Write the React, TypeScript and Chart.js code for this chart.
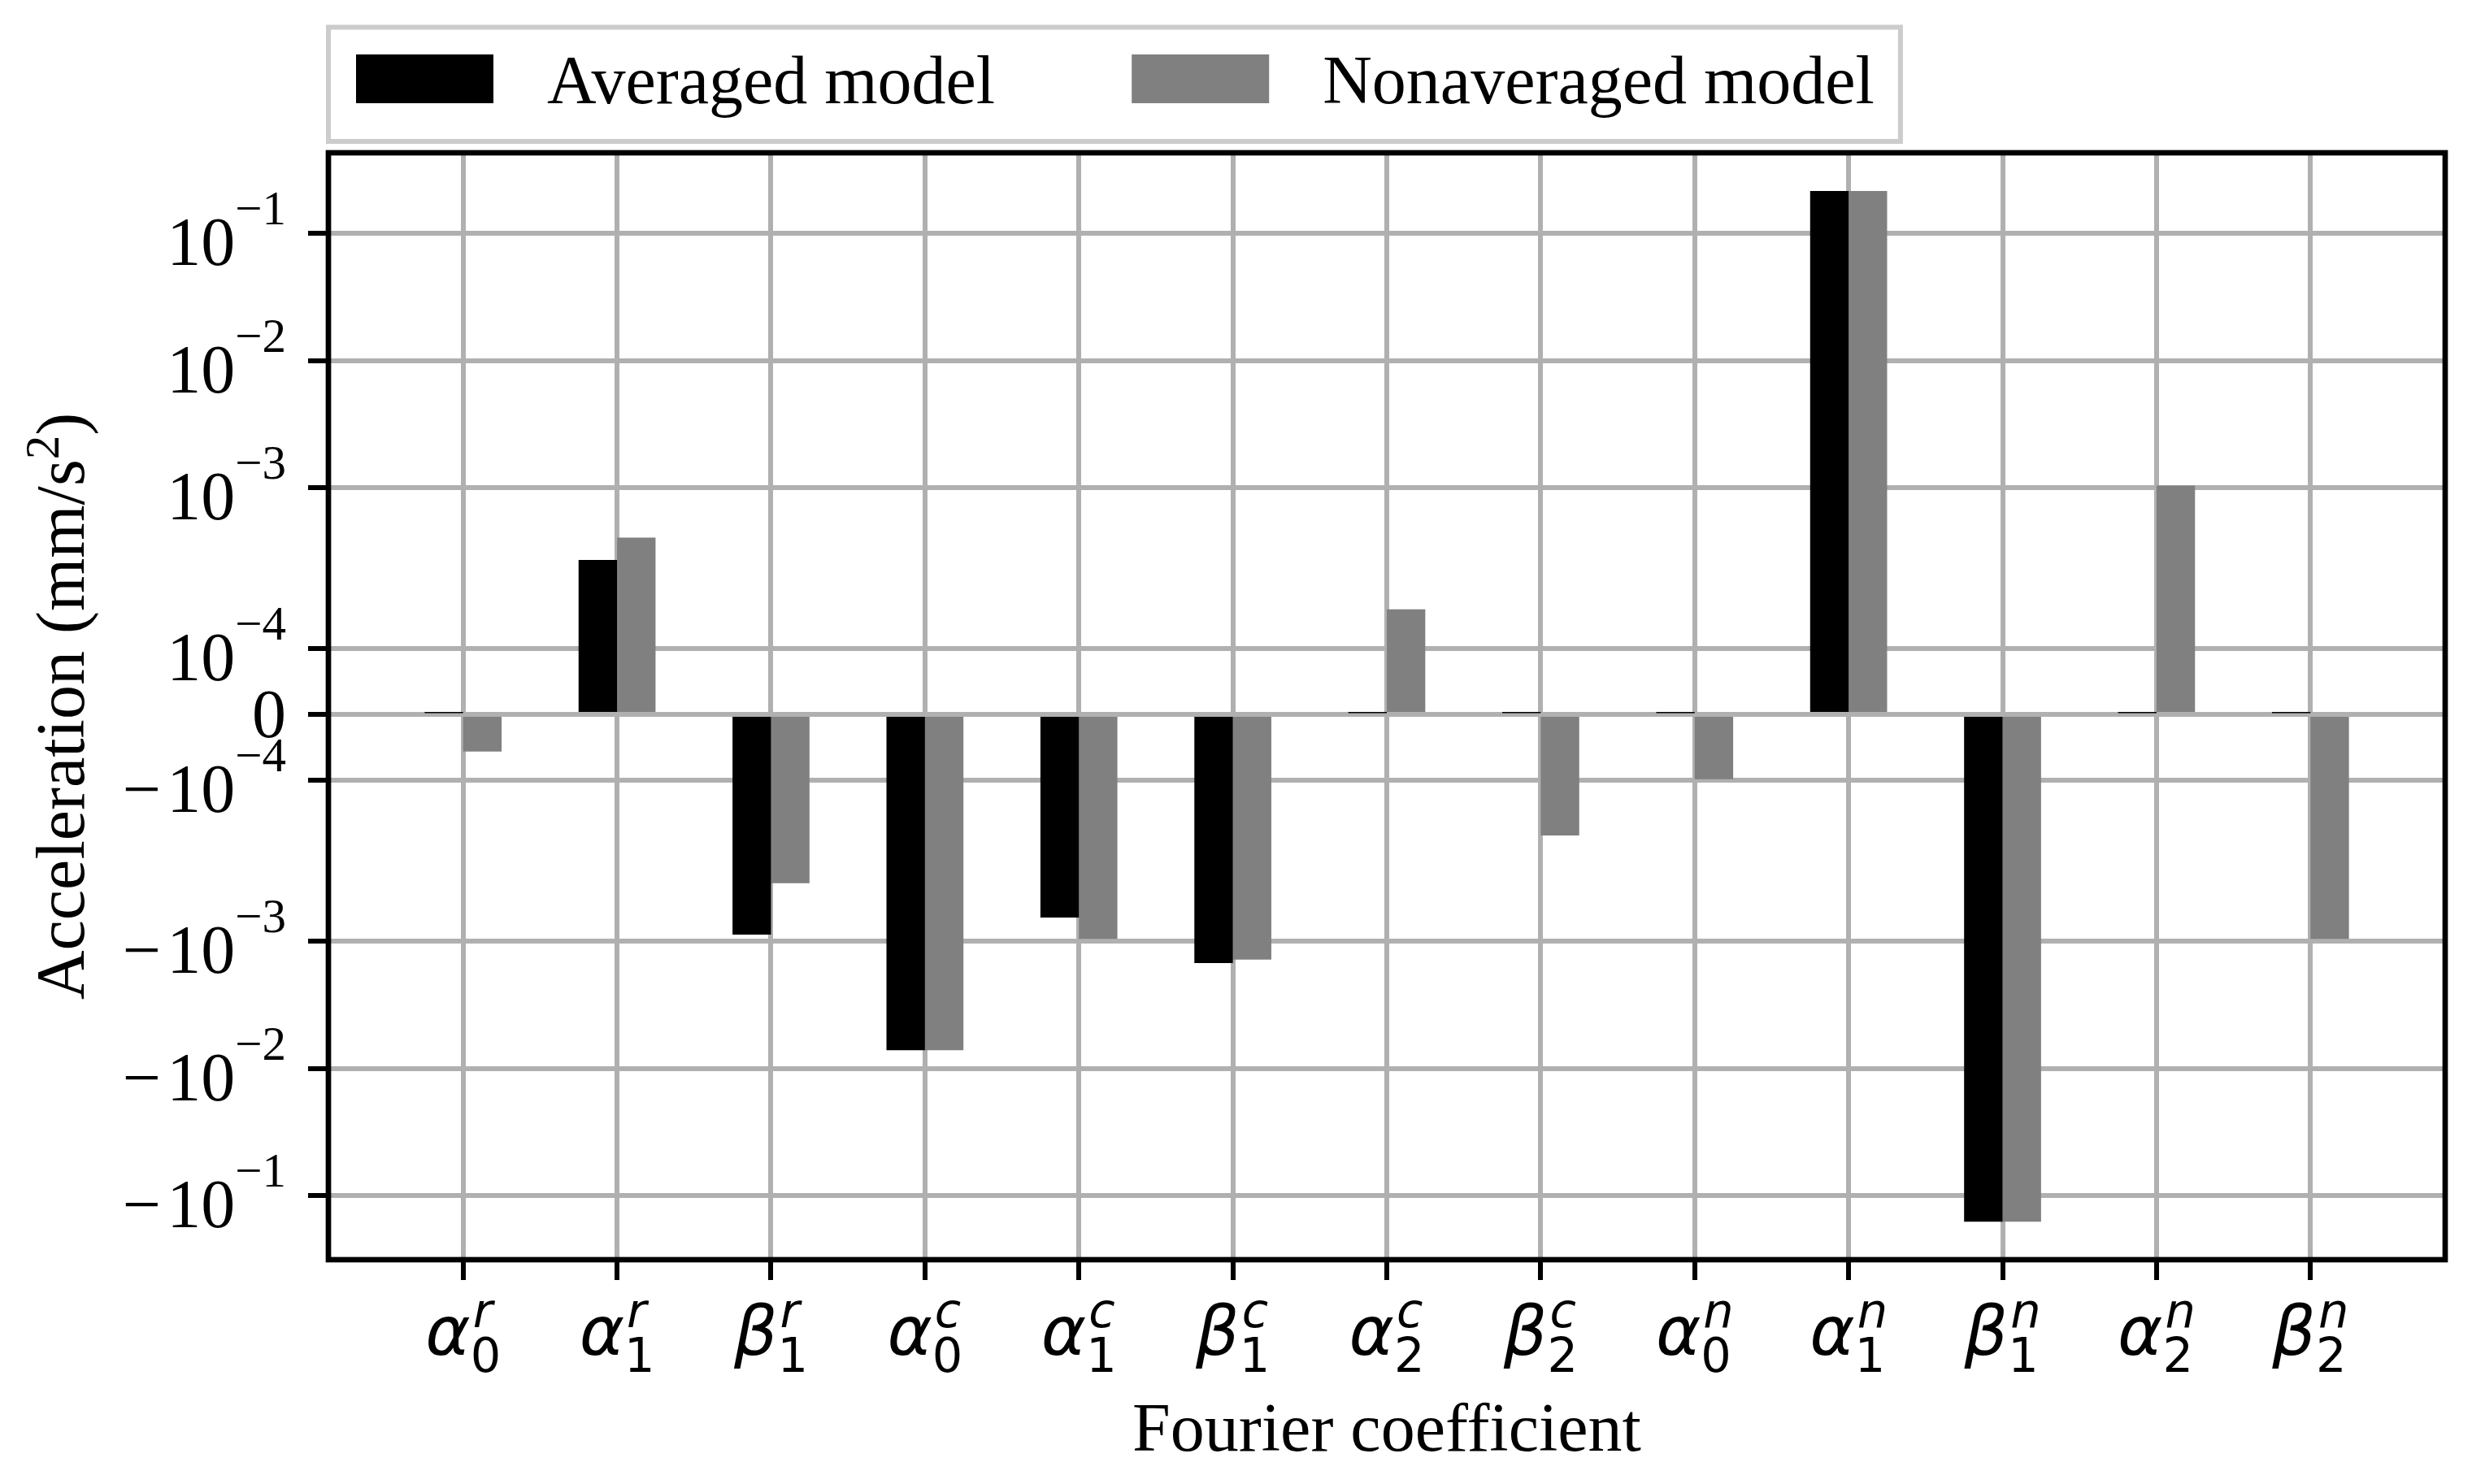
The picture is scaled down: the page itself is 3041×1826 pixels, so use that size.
import React, { useEffect, useRef } from 'react';
import { Chart, BarController, BarElement, LinearScale } from 'chart.js';

// ---------------- data ----------------
const CATEGORY_SYMBOLS = ['α', 'α', 'β', 'α', 'α', 'β', 'α', 'β', 'α', 'α', 'β', 'α', 'β'];
const CATEGORY_SUBS = ['0', '1', '1', '0', '1', '1', '2', '2', '0', '1', '1', '2', '2'];
const CATEGORY_SUPS = ['r', 'r', 'r', 'c', 'c', 'c', 'c', 'c', 'n', 'n', 'n', 'n', 'n'];

const AVERAGED = [2e-6, 2.72e-4, -8.92e-4, -7.2e-3, -6.54e-4, -1.49e-3, 2e-6, 2e-6, 2e-6, 0.214, -0.16, 2e-6, 2e-6];
const NONAVERAGED = [-5.65e-5, 4.06e-4, -3.52e-4, -7.2e-3, -9.62e-4, -1.4e-3, 1.595e-4, -1.84e-4, -9.85e-5, 0.214, -0.16, 1.04e-3, -9.62e-4];

const SERIES_LABELS = ['Averaged model', 'Nonaveraged model'];
const SERIES_COLORS = ['#000000', '#808080'];

const Y_TICKS = [-1e-1, -1e-2, -1e-3, -1e-4, 0, 1e-4, 1e-3, 1e-2, 1e-1];
const Y_MIN = -0.318;
const Y_MAX = 0.427;
const X_MIN = -0.875;
const X_MAX = 12.875;

const Y_TITLE = 'Acceleration (mm/s';
const Y_TITLE_SUP = '2';
const Y_TITLE_END = ')';
const X_TITLE = 'Fourier coefficient';

// ---------------- symlog transform ----------------
const LINTHRESH = 2.15e-4;
const LINSCALE_ADJ = 1 / (1 - 1 / 10);

function symlog(v: number): number {
  const a = Math.abs(v);
  if (a <= LINTHRESH) return (v / LINTHRESH) * LINSCALE_ADJ;
  return Math.sign(v) * (LINSCALE_ADJ + Math.log10(a / LINTHRESH));
}
function symexp(t: number): number {
  const a = Math.abs(t);
  if (a <= LINSCALE_ADJ) return (t / LINSCALE_ADJ) * LINTHRESH;
  return Math.sign(t) * LINTHRESH * Math.pow(10, a - LINSCALE_ADJ);
}

class SymlogScale extends LinearScale {
  static id = 'symlog';
  static defaults = {};
  buildTicks() {
    const self: any = this;
    return Y_TICKS.filter((v) => v >= self.min && v <= self.max).map((v) => ({ value: v }));
  }
  configure() {
    super.configure();
    const self: any = this;
    self._tStart = symlog(self.min);
    self._tRange = symlog(self.max) - self._tStart;
  }
  getPixelForValue(value: number) {
    const self: any = this;
    if (value === null || value === undefined || isNaN(value)) return NaN;
    return self.getPixelForDecimal((symlog(value) - self._tStart) / self._tRange);
  }
  getValueForPixel(pixel: number) {
    const self: any = this;
    return symexp(self._tStart + self.getDecimalForPixel(pixel) * self._tRange);
  }
}

Chart.register(BarController, BarElement, LinearScale, SymlogScale as any);

// ---------------- styling ----------------
const W = 3041;
const H = 1826;
const SERIF = "'Liberation Serif', 'Times New Roman', serif";
const SANS = "'DejaVu Sans', sans-serif";
const FS = 84;
const FS_SMALL = 59;
const GRID = '#b0b0b0';

const textPlugin = {
  id: 'mplText',
  afterDatasetsDraw(chart: any) {
    const { ctx, chartArea } = chart;
    ctx.save();
    ctx.strokeStyle = '#000';
    ctx.lineWidth = 6.7;
    ctx.lineJoin = 'miter';
    ctx.strokeRect(chartArea.left, chartArea.top, chartArea.right - chartArea.left, chartArea.bottom - chartArea.top);
    ctx.restore();
  },
  afterDraw(chart: any) {
    const { ctx, chartArea, scales } = chart;
    const ys = scales.y;
    const xs = scales.x;
    ctx.save();
    ctx.fillStyle = '#000';
    ctx.textBaseline = 'alphabetic';
    ctx.textAlign = 'left';

    // ---- y tick labels ----
    const yRight = chartArea.left - 52;
    Y_TICKS.forEach((v) => {
      const y = ys.getPixelForValue(v);
      if (v === 0) {
        ctx.font = `${FS}px ${SERIF}`;
        const w = ctx.measureText('0').width;
        ctx.fillText('0', yRight - w, y + 28);
        return;
      }
      const exp = Math.round(Math.log10(Math.abs(v)));
      const supText = (exp < 0 ? '\u2212' : '') + String(Math.abs(exp));
      ctx.font = `${FS_SMALL}px ${SERIF}`;
      const supW = ctx.measureText(supText).width;
      ctx.font = `${FS}px ${SERIF}`;
      const baseW = ctx.measureText('10').width;
      const minusW = ctx.measureText('\u2212').width;
      const xBase = yRight - supW - baseW;
      ctx.fillText('10', xBase, y + 39);
      if (v < 0) ctx.fillText('\u2212', xBase - minusW - 7, y + 39);
      ctx.font = `${FS_SMALL}px ${SERIF}`;
      ctx.fillText(supText, xBase + baseW, y - 11);
    });

    // ---- x tick labels ----
    const bottom = chartArea.bottom;
    CATEGORY_SYMBOLS.forEach((sym, i) => {
      const xc = xs.getPixelForValue(i);
      ctx.font = `italic ${FS}px ${SANS}`;
      const symW = ctx.measureText(sym).width;
      ctx.font = `${FS_SMALL}px ${SANS}`;
      const subW = ctx.measureText(CATEGORY_SUBS[i]).width;
      ctx.font = `italic ${FS_SMALL}px ${SANS}`;
      const supW = ctx.measureText(CATEGORY_SUPS[i]).width + 3;
      const total = symW + Math.max(subW, supW);
      const x0 = xc - total / 2;
      ctx.font = `italic ${FS}px ${SANS}`;
      ctx.fillText(sym, x0, bottom + 117);
      ctx.font = `${FS_SMALL}px ${SANS}`;
      ctx.fillText(CATEGORY_SUBS[i], x0 + symW, bottom + 138);
      ctx.font = `italic ${FS_SMALL}px ${SANS}`;
      ctx.fillText(CATEGORY_SUPS[i], x0 + symW + 3, bottom + 83);
    });

    // ---- x title ----
    ctx.font = `${FS}px ${SERIF}`;
    ctx.textAlign = 'center';
    ctx.fillText(X_TITLE, (chartArea.left + chartArea.right) / 2, bottom + 235);
    ctx.textAlign = 'left';

    // ---- y title (rotated) ----
    ctx.save();
    ctx.translate(103, (chartArea.top + chartArea.bottom) / 2);
    ctx.rotate(-Math.PI / 2);
    ctx.font = `${FS}px ${SERIF}`;
    const w1 = ctx.measureText(Y_TITLE).width;
    const w3 = ctx.measureText(Y_TITLE_END).width;
    ctx.font = `${FS_SMALL}px ${SERIF}`;
    const w2 = ctx.measureText(Y_TITLE_SUP).width;
    const start = -(w1 + w2 + w3) / 2;
    ctx.font = `${FS}px ${SERIF}`;
    ctx.fillText(Y_TITLE, start, 0);
    ctx.fillText(Y_TITLE_END, start + w1 + w2, 0);
    ctx.font = `${FS_SMALL}px ${SERIF}`;
    ctx.fillText(Y_TITLE_SUP, start + w1, -31);
    ctx.restore();

    // ---- legend ----
    ctx.font = `${FS}px ${SERIF}`;
    const left = chartArea.left;
    const handleW = 169;
    const handleTop = 67;
    const handleH = 60;
    const baseline = 127;
    let x = left + 34;
    const positions: { hx: number; tx: number }[] = [];
    SERIES_LABELS.forEach((label) => {
      const tx = x + handleW + 66;
      positions.push({ hx: x, tx });
      x = tx + ctx.measureText(label).width + 168;
    });
    const lastLabelEnd = positions[positions.length - 1].tx + ctx.measureText(SERIES_LABELS[SERIES_LABELS.length - 1]).width;
    const frameRight = lastLabelEnd + 32;
    ctx.fillStyle = 'rgba(255,255,255,0.8)';
    ctx.fillRect(left, 33.5, frameRight - left, 140.5);
    ctx.strokeStyle = '#cccccc';
    ctx.lineWidth = 6;
    ctx.strokeRect(left, 33.5, frameRight - left, 140.5);
    SERIES_LABELS.forEach((label, s) => {
      ctx.fillStyle = SERIES_COLORS[s];
      ctx.fillRect(positions[s].hx, handleTop, handleW, handleH);
      ctx.fillStyle = '#000';
      ctx.fillText(label, positions[s].tx, baseline);
    });

    ctx.restore();
  },
};

export default function App() {
  const ref = useRef<HTMLCanvasElement>(null);
  useEffect(() => {
    const canvas = ref.current;
    if (!canvas) return;
    const chart = new Chart(canvas, {
      type: 'bar',
      data: {
        datasets: SERIES_LABELS.map((label, s) => ({
          label,
          data: (s === 0 ? AVERAGED : NONAVERAGED).map((y, i) => ({ x: i, y })),
          backgroundColor: SERIES_COLORS[s],
          borderWidth: 0,
          categoryPercentage: 0.5,
          barPercentage: 1,
        })),
      } as any,
      options: {
        responsive: false,
        animation: false,
        devicePixelRatio: 1,
        events: [],
        layout: { padding: { left: 0, top: 188, right: 33, bottom: 0 } },
        plugins: { legend: { display: false }, tooltip: { enabled: false } },
        scales: {
          x: {
            type: 'linear',
            min: X_MIN,
            max: X_MAX,
            offset: false,
            bounds: 'data',
            afterBuildTicks: (s: any) => {
              s.ticks = CATEGORY_SYMBOLS.map((_, i) => ({ value: i }));
            },
            afterFit: (s: any) => {
              s.height = H - 1550;
            },
            ticks: { display: false, callback: () => '' },
            grid: { offset: false, color: GRID, lineWidth: 6, tickColor: '#000', tickWidth: 6, tickLength: 25, drawTicks: true },
            border: { display: false },
          },
          y: {
            type: 'symlog',
            min: Y_MIN,
            max: Y_MAX,
            afterFit: (s: any) => {
              s.width = 404;
            },
            ticks: { display: false, callback: () => '' },
            grid: { color: GRID, lineWidth: 6, tickColor: '#000', tickWidth: 6, tickLength: 25, drawTicks: true },
            border: { display: false },
          },
        } as any,
      },
      plugins: [textPlugin],
    } as any);
    return () => chart.destroy();
  }, []);
  return (
    <div style={{ position: 'fixed', left: 0, top: 0, width: W, height: H, background: '#fff' }}>
      <canvas ref={ref} width={W} height={H} style={{ width: W, height: H, display: 'block' }} />
    </div>
  );
}
